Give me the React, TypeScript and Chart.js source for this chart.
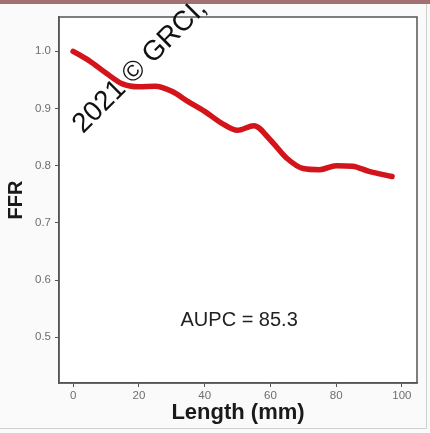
import React, { useEffect, useRef } from "react";
import { Chart, registerables } from "chart.js";

Chart.register(...registerables);

const lengthMm = [0, 5, 10, 15, 20, 25, 30, 35, 40, 45, 50, 55, 60, 65, 70, 75, 80, 85, 90, 97];
const ffrValues = [1.0, 0.983, 0.962, 0.943, 0.938, 0.939, 0.93, 0.912, 0.895, 0.875, 0.862, 0.87, 0.845, 0.813, 0.795, 0.793, 0.8, 0.799, 0.79, 0.781];
const xTicks = [0, 20, 40, 60, 80, 100];
const yTicks = [0.5, 0.6, 0.7, 0.8, 0.9, 1.0];
const annotationText = "AUPC = 85.3";
const annotationAt = { x: 50.5, y: 0.53 };
const watermarkText = "2021 \u00a9 GRCI,";
const watermarkAt = { x: 3.0, y: 0.855 };

const decorPlugin = {
  id: "decor",
  beforeDraw(chart: any) {
    const { ctx, width, height, chartArea } = chart;
    ctx.save();
    ctx.fillStyle = "#fafafa";
    ctx.fillRect(0, 0, width, height);
    ctx.fillStyle = "#ffffff";
    ctx.fillRect(chartArea.left, chartArea.top, chartArea.right - chartArea.left, chartArea.bottom - chartArea.top);
    ctx.fillStyle = "#a46f70";
    ctx.fillRect(0, 0, width, 4);
    ctx.strokeStyle = "#cfcfcf";
    ctx.lineWidth = 1;
    ctx.beginPath();
    ctx.moveTo(width - 3.5, 4);
    ctx.lineTo(width - 3.5, height - 4.5);
    ctx.lineTo(0, height - 4.5);
    ctx.stroke();
    ctx.restore();
  },
  afterDraw(chart: any) {
    const { ctx, chartArea, scales } = chart;
    ctx.save();
    ctx.strokeStyle = "#555555";
    ctx.lineWidth = 1.5;
    ctx.strokeRect(chartArea.left, chartArea.top, chartArea.right - chartArea.left, chartArea.bottom - chartArea.top);
    ctx.fillStyle = "#222222";
    ctx.font = "20px 'Liberation Sans', Arial, sans-serif";
    ctx.textAlign = "center";
    ctx.textBaseline = "middle";
    ctx.fillText(annotationText, scales.x.getPixelForValue(annotationAt.x), scales.y.getPixelForValue(annotationAt.y));
    const wx = scales.x.getPixelForValue(watermarkAt.x);
    const wy = scales.y.getPixelForValue(watermarkAt.y);
    ctx.translate(wx, wy);
    ctx.rotate((-45 * Math.PI) / 180);
    ctx.textAlign = "left";
    ctx.textBaseline = "alphabetic";
    ctx.font = "28px 'Liberation Sans', Arial, sans-serif";
    ctx.fillStyle = "#111111";
    ctx.fillText(watermarkText, 0, 0);
    ctx.restore();
  },
};

export default function App() {
  const canvasRef = useRef<HTMLCanvasElement | null>(null);
  useEffect(() => {
    if (!canvasRef.current) return;
    const chart = new Chart(canvasRef.current, {
      type: "line",
      data: {
        datasets: [
          {
            data: lengthMm.map((x, i) => ({ x, y: ffrValues[i] })),
            borderColor: "#d3141b",
            borderWidth: 5.5,
            pointRadius: 0,
            cubicInterpolationMode: "monotone",
            borderCapStyle: "round",
            borderJoinStyle: "round",
            fill: false,
          },
        ],
      },
      options: {
        animation: false,
        responsive: true,
        maintainAspectRatio: false,
        layout: { padding: { left: 0, top: 17, right: 13, bottom: 0 } },
        plugins: { legend: { display: false }, tooltip: { enabled: false } },
        scales: {
          x: {
            type: "linear",
            min: -4.3,
            max: 104.6,
            afterBuildTicks: (s: any) => {
              s.ticks = xTicks.map((v) => ({ value: v }));
            },
            afterFit: (s: any) => {
              s.height = 50;
            },
            grid: { drawOnChartArea: false, drawTicks: true, tickLength: 4, color: "#555555" },
            border: { display: true, color: "#555555", width: 1.5 },
            ticks: {
              color: "#6e6e6e",
              padding: 2,
              maxRotation: 0,
              font: { family: "'Liberation Sans', Arial, sans-serif", size: 11.5 },
            },
            title: {
              display: true,
              text: "Length (mm)",
              color: "#1a1a1a",
              font: { family: "'Liberation Sans', Arial, sans-serif", size: 22, weight: "bold" },
              padding: { top: 7, bottom: 7 },
            },
          },
          y: {
            type: "linear",
            min: 0.42,
            max: 1.06,
            afterBuildTicks: (s: any) => {
              s.ticks = yTicks.map((v) => ({ value: v }));
            },
            afterFit: (s: any) => {
              s.width = 59;
            },
            grid: { drawOnChartArea: false, drawTicks: true, tickLength: 4, color: "#555555" },
            border: { display: true, color: "#555555", width: 1.5 },
            ticks: {
              color: "#6e6e6e",
              padding: 4,
              callback: (v: any) => Number(v).toFixed(1),
              font: { family: "'Liberation Sans', Arial, sans-serif", size: 11.5 },
            },
            title: {
              display: true,
              text: "FFR",
              color: "#1a1a1a",
              font: { family: "'Liberation Sans', Arial, sans-serif", size: 20, weight: "bold" },
              padding: { top: 4, bottom: 4 },
            },
          },
        },
      },
      plugins: [decorPlugin],
    } as any);
    return () => chart.destroy();
  }, []);
  return (
    <div style={{ position: "fixed", left: 0, top: 0, width: 430, height: 433 }}>
      <canvas ref={canvasRef} />
    </div>
  );
}
